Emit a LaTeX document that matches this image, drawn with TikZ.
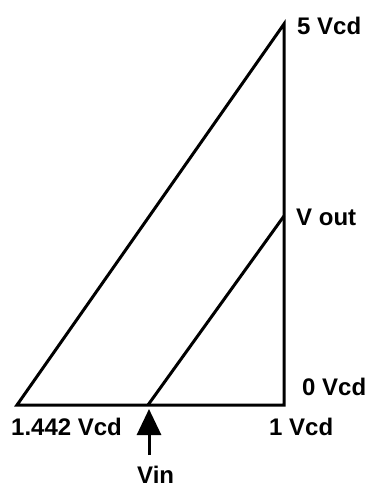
\documentclass[tikz,border=0pt]{standalone}
\usepackage{fontspec}
\setmainfont{Liberation Sans}
\usetikzlibrary{arrows.meta}
\begin{document}
\begin{tikzpicture}[x=1pt,y=-1pt,
  lbl/.style={font=\fontsize{24}{28}\selectfont\bfseries, inner sep=0pt, anchor=base west},
  edge/.style={line width=3pt, line join=miter}]
\useasboundingbox (0,0) rectangle (371,487);
\coordinate (bl) at (17,405);
\coordinate (br) at (284,405);
\coordinate (tr) at (284,24);
\coordinate (vo) at (284,216);
\coordinate (vi) at (148,405);
\draw[edge] (bl) -- (br) -- (tr) -- cycle;
\draw[edge] (vi) -- (vo);
\coordinate (atail) at (149,455);
\coordinate (atip) at (149,409);
\draw[line width=3pt, -{Triangle[length=26pt,width=24pt]}] (atail) -- (atip);
\node[lbl] (l5) at (297,35) {5 Vcd};
\node[lbl] (lvo) at (296,225) {V out};
\node[lbl] (l0) at (302,395) {0 Vcd};
\node[lbl] (l1442) at (11,435) {1.442 Vcd};
\node[lbl] (l1) at (269,435) {1 Vcd};
\node[lbl] (lvin) at (137,483) {Vin};
\end{tikzpicture}
\end{document}
